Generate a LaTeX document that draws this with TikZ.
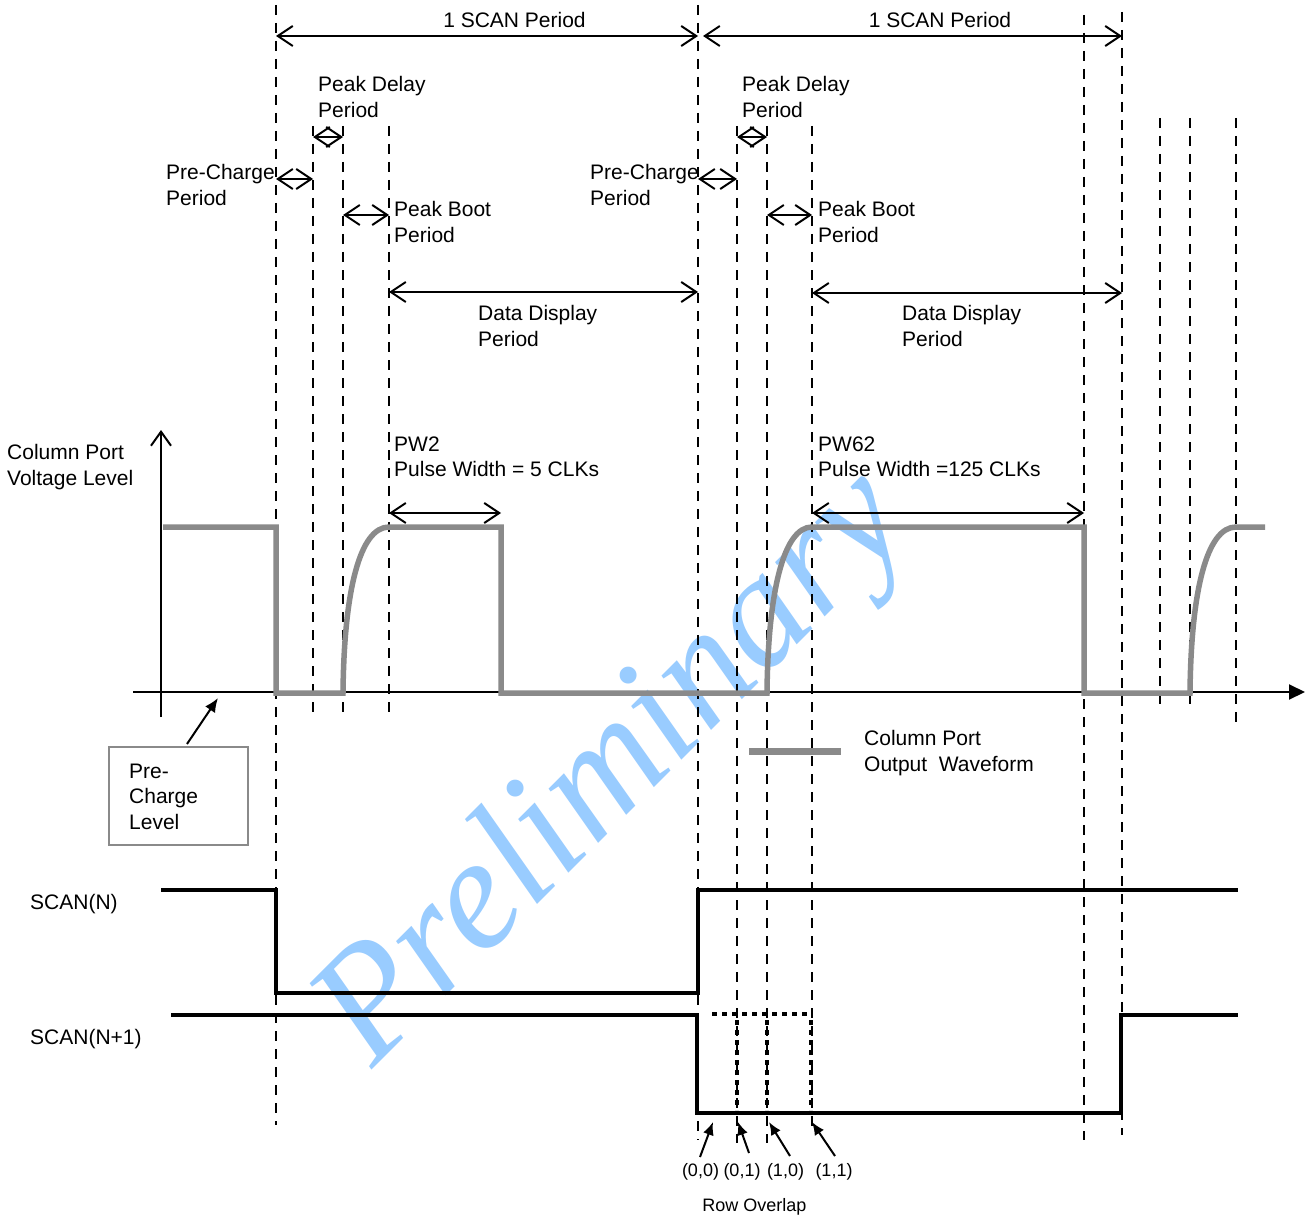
\documentclass[tikz,border=0pt]{standalone}
\usepackage{fontspec}
\setmainfont{Liberation Sans}
\newfontfamily\wmfont{Liberation Serif}
\usetikzlibrary{arrows.meta}
\definecolor{wavegray}{RGB}{138,138,138}
\definecolor{wmblue}{RGB}{153,204,255}
\begin{document}
\begin{tikzpicture}[x=1pt,y=-1pt,
  lbl/.style={anchor=north west, inner sep=0pt, align=left, font=\fontsize{21}{25.5}\selectfont},
  smalllbl/.style={anchor=north, inner sep=0pt, font=\fontsize{18}{22}\selectfont},
  vdash/.style={line width=2.4pt, dash pattern=on 10pt off 8pt},
  dim/.style={line width=2pt, {Straight Barb[length=15pt,width=20pt]}-{Straight Barb[length=15pt,width=20pt]}},
  wave/.style={draw=wavegray, line width=5.5pt, line join=miter},
  scan/.style={line width=4.5pt, line join=miter},
  dotline/.style={line width=4.5pt, dash pattern=on 5pt off 5pt},
  axis/.style={line width=2pt}
]
\useasboundingbox (0,0) rectangle (1312,1217);
\fill[white] (0,0) rectangle (1312,1217);

% watermark
\node[rotate=45, anchor=base west, inner sep=0pt, text=wmblue,
      font=\wmfont\itshape\fontsize{160}{160}\selectfont] (wm) at (372,1070) {Preliminary};

% vertical dashed lines
\draw[vdash] (276,5) -- (276,1125);
\draw[vdash] (313,126) -- (313,716);
\draw[vdash] (343,126) -- (343,716);
\draw[vdash] (389,126) -- (389,716);
\draw[vdash] (698,5) -- (698,1140);
\draw[vdash] (737,126) -- (737,1143);
\draw[vdash] (767,126) -- (767,1143);
\draw[vdash] (812,126) -- (812,1132);
\draw[vdash] (1084,15) -- (1084,1140);
\draw[vdash] (1122,12) -- (1122,1135);
\draw[vdash] (1160,118) -- (1160,708);
\draw[vdash] (1190,118) -- (1190,708);
\draw[vdash] (1236,118) -- (1236,722);

% dimension arrows
\draw[dim] (276,36) -- (698,36);
\draw[dim] (703,36) -- (1122,36);
\draw[dim] (313,137) -- (343,137);
\draw[dim] (276,179) -- (313,179);
\draw[dim] (343,215) -- (389,215);
\draw[dim] (389,292) -- (698,292);
\draw[dim] (737,137) -- (767,137);
\draw[dim] (698,179) -- (737,179);
\draw[dim] (767,215) -- (812,215);
\draw[dim] (812,293) -- (1122,293);
\draw[dim] (389,513) -- (501,513);
\draw[dim] (812,513) -- (1084,513);

% labels
\node[lbl, anchor=north] (scan1) at (514.5,12.5) {1 SCAN Period};
\node[lbl, anchor=north] (scan2) at (940,12.5) {1 SCAN Period};
\node[lbl] (pd1) at (318,76.5) {Peak Delay\\Period};
\node[lbl] (pc1) at (166,164.5) {Pre-Charge\\Period};
\node[lbl] (pb1) at (394,201.5) {Peak Boot\\Period};
\node[lbl] (dd1) at (478,305.5) {Data Display\\Period};
\node[lbl] (pd2) at (742,76.5) {Peak Delay\\Period};
\node[lbl] (pc2) at (590,164.5) {Pre-Charge\\Period};
\node[lbl] (pb2) at (818,201.5) {Peak Boot\\Period};
\node[lbl] (dd2) at (902,305.5) {Data Display\\Period};
\node[lbl] (pw2) at (394,436.5) {PW2\\Pulse Width = 5 CLKs};
\node[lbl] (pw62) at (818,436.5) {PW62\\Pulse Width =125 CLKs};
\node[lbl] (cpv) at (7,444.5) {Column Port\\Voltage Level};
\node[lbl] (cpo) at (864,730.5) {Column Port\\Output\ \ Waveform};
\node[lbl] (scn) at (30,894.5) {SCAN(N)};
\node[lbl] (scn1) at (30,1029.5) {SCAN(N+1)};

% axes
\draw[axis, -{Straight Barb[length=14pt,width=20pt]}] (161,717) -- (161,430);
\draw[axis, -{Triangle[length=16pt,width=15pt]}] (133,692) -- (1305,692);

% waveform
\draw[wave] (163,527) -- (276,527) -- (276,693) -- (343,693)
  .. controls (344,590) and (360,527) .. (389,527) -- (501,527) -- (501,693) -- (767,693)
  .. controls (768,590) and (784,527) .. (812,527) -- (1084,527) -- (1084,693) -- (1190,693)
  .. controls (1191,590) and (1207,527) .. (1236,527) -- (1265,527);

% legend
\draw[draw=wavegray, line width=7pt] (749,751) -- (841,751);

% pre-charge level box
\node[draw=wavegray, line width=2pt, minimum width=139pt, minimum height=98pt, inner sep=0pt] (pcbox) at (178.5,796) {};
\node[lbl] (pcl) at (129,763.5) {Pre-\\Charge\\Level};
\coordinate (pctail) at (187,744);
\coordinate (pchead) at (218,698);
\draw[line width=2pt, -{Latex[length=14pt,width=12pt]}] (pctail) -- (pchead);

% scan signals
\draw[scan] (161,890) -- (276,890) -- (276,993) -- (698,993) -- (698,890) -- (1238,890);
\draw[scan] (171,1015) -- (697,1015) -- (697,1113) -- (1121,1113) -- (1121,1015) -- (1238,1015);

% row overlap dotted
\draw[dotline] (712,1014) -- (812,1014);
\draw[dotline] (737,1020) -- (737,1110);
\draw[dotline] (767,1020) -- (767,1110);
\draw[dotline] (811,1020) -- (811,1110);

% row overlap arrows
\coordinate (t00) at (700,1157); \coordinate (h00) at (713,1122);
\coordinate (t01) at (749,1153); \coordinate (h01) at (738,1122);
\coordinate (t10) at (790,1156); \coordinate (h10) at (769,1122);
\coordinate (t11) at (835,1156); \coordinate (h11) at (812,1122);
\foreach \n in {00,01,10,11}
  \draw[line width=2pt, -{Latex[length=13pt,width=11pt]}] (t\n) -- (h\n);

\node[smalllbl] (l00) at (700.5,1163.5) {(0,0)};
\node[smalllbl] (l01) at (742,1163.5) {(0,1)};
\node[smalllbl] (l10) at (785.5,1163.5) {(1,0)};
\node[smalllbl] (l11) at (834,1163.5) {(1,1)};
\node[smalllbl] (ro) at (754.5,1198.5) {Row Overlap};
\end{tikzpicture}
\end{document}
